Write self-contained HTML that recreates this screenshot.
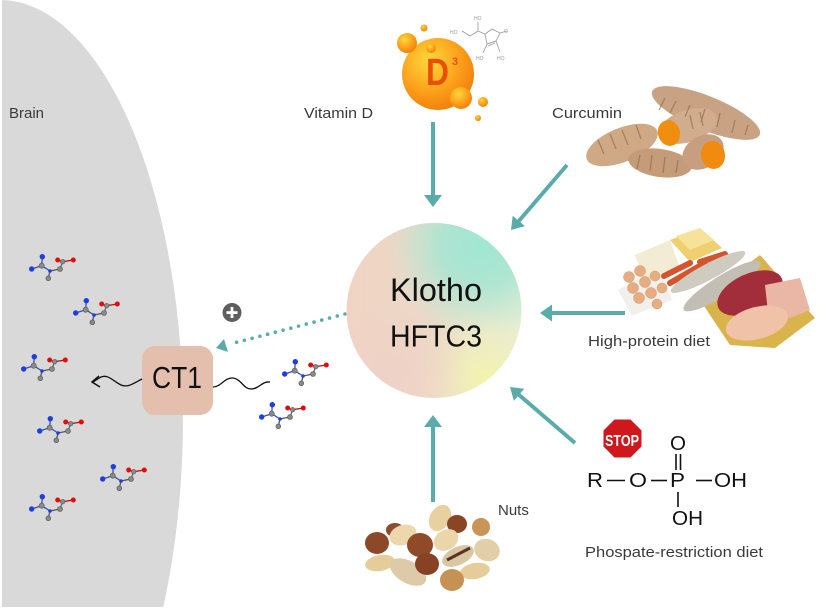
<!DOCTYPE html>
<html><head><meta charset="utf-8"><style>
html,body{margin:0;padding:0;background:#fff;width:829px;height:610px;overflow:hidden;}
svg{display:block;}
text{font-family:"Liberation Sans",sans-serif;}
</style></head><body>
<svg width="829" height="610" viewBox="0 0 829 610" xmlns="http://www.w3.org/2000/svg">
<defs>
<radialGradient id="orb" cx="0.38" cy="0.32" r="0.75">
<stop offset="0" stop-color="#ffd83a"/><stop offset="0.55" stop-color="#fca21c"/><stop offset="1" stop-color="#f07a08"/></radialGradient>
<linearGradient id="kbase" x1="0" y1="0" x2="1" y2="0">
<stop offset="0" stop-color="#f0d3c3"/><stop offset="0.5" stop-color="#ecdac8"/><stop offset="1" stop-color="#e6efd6"/></linearGradient>
<radialGradient id="kmint" cx="482" cy="245" r="95" gradientUnits="userSpaceOnUse">
<stop offset="0" stop-color="#9fe6d3" stop-opacity="1"/><stop offset="0.45" stop-color="#a6e5d2" stop-opacity="0.85"/><stop offset="1" stop-color="#b8e8d4" stop-opacity="0"/></radialGradient>
<radialGradient id="kyel" cx="485" cy="378" r="70" gradientUnits="userSpaceOnUse">
<stop offset="0" stop-color="#f3f3ad" stop-opacity="1"/><stop offset="1" stop-color="#f3f1bf" stop-opacity="0"/></radialGradient>
<radialGradient id="kpink" cx="400" cy="370" r="70" gradientUnits="userSpaceOnUse">
<stop offset="0" stop-color="#efd0c6" stop-opacity="0.8"/><stop offset="1" stop-color="#efd0c6" stop-opacity="0"/></radialGradient>
<g id="mol">
<g stroke-width="1.3">
<line x1="3.7" y1="16" x2="13.7" y2="12.7" stroke="#3a4fb0"/>
<line x1="13.7" y1="12.7" x2="14.3" y2="3.7" stroke="#3a4fb0"/>
<line x1="13.7" y1="12.7" x2="22" y2="18" stroke="#3a4fb0"/>
<line x1="22" y1="18" x2="20.3" y2="25.3" stroke="#555"/>
<line x1="22" y1="18" x2="32" y2="16" stroke="#555"/>
<line x1="32" y1="16" x2="34.7" y2="8.7" stroke="#666"/>
<line x1="34.7" y1="8.7" x2="29.7" y2="7" stroke="#c01010"/>
<line x1="34.7" y1="8.7" x2="45.3" y2="7" stroke="#c01010"/>
</g>
<circle cx="3.7" cy="16" r="2.7" fill="#1f3fdc"/>
<circle cx="14.3" cy="3.7" r="2.7" fill="#1f3fdc"/>
<circle cx="13.7" cy="12.7" r="2.6" fill="#8a8a8a" stroke="#555" stroke-width="0.6"/>
<circle cx="22" cy="18" r="1.8" fill="#1f3fdc"/>
<circle cx="20.3" cy="25.3" r="2.4" fill="#8a8a8a" stroke="#555" stroke-width="0.6"/>
<circle cx="32" cy="16" r="2.5" fill="#8a8a8a" stroke="#555" stroke-width="0.6"/>
<circle cx="34.7" cy="8.7" r="2.3" fill="#8a8a8a" stroke="#555" stroke-width="0.6"/>
<circle cx="29.7" cy="7" r="2.5" fill="#e00c0c"/>
<circle cx="45.3" cy="7" r="2.5" fill="#e00c0c"/>
</g>
</defs>

<!-- Brain region -->
<path d="M2,0 A183,418 0 0,1 163.2,607 L2,607 Z" fill="#d9d9d9"/>
<text x="9" y="118" font-size="15" fill="#3a3a3a">Brain</text>

<!-- molecules -->
<use href="#mol" x="28" y="253"/>
<use href="#mol" x="72" y="297"/>
<use href="#mol" x="20" y="353"/>
<use href="#mol" x="36" y="415"/>
<use href="#mol" x="99" y="463"/>
<use href="#mol" x="28" y="493"/>
<use href="#mol" x="281" y="358"/>
<use href="#mol" x="258" y="401"/>

<!-- CT1 -->
<rect x="142" y="346" width="71" height="69" rx="13" fill="#e4bfad"/>
<text x="152" y="388" font-size="31" fill="#111" textLength="50" lengthAdjust="spacingAndGlyphs">CT1</text>
<path d="M142,379 C134,383 128,388 121,385 C113,381 108,374 101,377 C97,379 95,381 93,382" fill="none" stroke="#111" stroke-width="1.3"/>
<path d="M99,376 L92,382 L100,387" fill="none" stroke="#111" stroke-width="1.5"/>
<path d="M213,387 C221,387 224,378 232,378 C241,378 243,389 251,389 C259,389 262,381 270,382" fill="none" stroke="#111" stroke-width="1.3"/>

<!-- plus -->
<circle cx="232" cy="312.5" r="9.5" fill="#5f5f5f"/>
<rect x="226.5" y="311.2" width="11" height="2.8" fill="#fff"/>
<rect x="230.6" y="307" width="2.8" height="11" fill="#fff"/>

<!-- dotted arrow -->
<line x1="345" y1="314" x2="234" y2="343" stroke="#5aacaa" stroke-width="3.6" stroke-linecap="round" stroke-dasharray="0 8"/>
<polygon points="216,348 224,339 228,352" fill="#5aacaa"/>

<!-- Klotho circle -->
<circle cx="434" cy="310.5" r="87.5" fill="url(#kbase)"/>
<circle cx="434" cy="310.5" r="87.5" fill="url(#kmint)"/>
<circle cx="434" cy="310.5" r="87.5" fill="url(#kyel)"/>
<circle cx="434" cy="310.5" r="87.5" fill="url(#kpink)"/>
<text x="390" y="301" font-size="32" fill="#111" textLength="92" lengthAdjust="spacingAndGlyphs">Klotho</text>
<text x="390" y="346.5" font-size="31" fill="#111" textLength="92" lengthAdjust="spacingAndGlyphs">HFTC3</text>

<!-- Vitamin D orb -->
<g stroke="#9a9a9a" stroke-width="0.8" fill="none">
<path d="M462,31 L470,36 L478,31 L478,22"/>
<path d="M478,31 L485,34 L487,44 L496,41 L500,33 L492,29 L485,34"/>
<path d="M487,44 L483,53 M496,41 L500,52 M487,44 L496,41 M488,46 L495,43"/>
<path d="M500,33 L507,31"/>
</g>
<g font-size="5" fill="#9a9a9a">
<text x="450" y="34">HO</text><text x="474" y="20">HO</text><text x="504" y="33">O</text>
<text x="476" y="60">HO</text><text x="497" y="60">HO</text>
</g>
<circle cx="438" cy="74" r="36" fill="url(#orb)"/>
<circle cx="407" cy="43" r="10" fill="url(#orb)"/>
<circle cx="424" cy="28" r="3.5" fill="url(#orb)"/>
<circle cx="431" cy="48" r="5" fill="url(#orb)"/>
<circle cx="461" cy="98" r="11" fill="url(#orb)"/>
<circle cx="483" cy="102" r="5" fill="url(#orb)"/>
<circle cx="478" cy="118" r="3" fill="url(#orb)"/>
<text x="426" y="85" font-size="38" font-weight="bold" fill="#e8500a" textLength="23" lengthAdjust="spacingAndGlyphs">D</text>
<text x="452" y="65" font-size="11" font-weight="bold" fill="#e8500a">3</text>
<text x="304" y="118" font-size="15" fill="#3a3a3a" textLength="69" lengthAdjust="spacingAndGlyphs">Vitamin D</text>

<!-- arrows -->
<g stroke="#5aacaa" stroke-width="4" fill="none">
<line x1="433" y1="122" x2="433" y2="198"/>
<line x1="567" y1="165" x2="518" y2="222"/>
<line x1="625" y1="313" x2="550" y2="313"/>
<line x1="575" y1="443" x2="518" y2="394"/>
<line x1="433" y1="502" x2="433" y2="424"/>
</g>
<g fill="#5aacaa">
<polygon points="424,195 442,195 433,207"/>
<polygon points="511,230 512.7,215.7 524.9,226.1"/>
<polygon points="540,313 552,304.5 552,321.5"/>
<polygon points="510,387 524.3,388.7 513.9,400.9"/>
<polygon points="433,415 424,427 442,427"/>
</g>

<!-- Curcumin -->
<text x="552" y="118" font-size="15" fill="#3a3a3a" textLength="70" lengthAdjust="spacingAndGlyphs">Curcumin</text>
<g>
<ellipse cx="706" cy="113" rx="58" ry="17" transform="rotate(22 706 113)" fill="#c9a283"/>
<ellipse cx="622" cy="145" rx="38" ry="17" transform="rotate(-22 622 145)" fill="#cfa986"/>
<ellipse cx="660" cy="163" rx="32" ry="14" transform="rotate(8 660 163)" fill="#c49c7a"/>
<ellipse cx="688" cy="126" rx="30" ry="16" transform="rotate(-18 688 126)" fill="#d1ad8e"/>
<ellipse cx="703" cy="152" rx="22" ry="16" transform="rotate(-30 703 152)" fill="#c79e7e"/>
<g stroke="#8c6446" stroke-width="1.3" opacity="0.6" fill="none">
<path d="M665,98 l-6,12 M676,101 l-6,12 M690,105 l-5,12 M705,109 l-4,13 M720,113 l-3,14 M735,120 l-3,13 M748,125 l-3,10"/>
<path d="M598,140 l6,14 M610,134 l6,15 M622,130 l6,15 M636,125 l5,14"/>
<path d="M640,155 l-3,14 M652,155 l-2,16 M665,157 l-2,16 M678,160 l-2,13"/>
<path d="M690,115 l3,14 M700,112 l3,14"/>
</g>
<ellipse cx="669" cy="133" rx="11" ry="13" transform="rotate(-15 669 133)" fill="#f08e10"/>
<ellipse cx="713" cy="155" rx="12" ry="14" transform="rotate(-10 713 155)" fill="#f08a10"/>
</g>

<!-- High protein -->
<g>
<polygon points="700,300 760,255 815,318 775,348 730,345" fill="#d9b44c"/>
<polygon points="618,290 660,265 672,300 632,316" fill="#f2f0ec"/>
<polygon points="635,255 670,240 680,268 645,282" fill="#f3ecd4"/>
<polygon points="670,240 700,228 722,248 690,262" fill="#efd070"/>
<polygon points="676,236 700,228 714,240 690,250" fill="#f7e29a"/>
<g fill="#e7ad82" stroke="#d49868" stroke-width="0.5">
<circle cx="629" cy="277" r="5.5"/><circle cx="640" cy="271" r="5.5"/>
<circle cx="633" cy="288" r="5.5"/><circle cx="645" cy="282" r="5.5"/><circle cx="655" cy="276" r="5"/>
<circle cx="639" cy="298" r="5.5"/><circle cx="651" cy="293" r="5.5"/><circle cx="662" cy="288" r="5"/>
<circle cx="657" cy="304" r="5"/>
</g>
<g stroke="#d5542b" stroke-width="6" stroke-linecap="round">
<line x1="664" y1="276" x2="690" y2="263"/>
<line x1="670" y1="283" x2="705" y2="263"/>
<line x1="700" y1="262" x2="725" y2="254"/>
</g>
<ellipse cx="708" cy="272" rx="42" ry="8" transform="rotate(-28 708 272)" fill="#cfcbc0"/>
<ellipse cx="722" cy="286" rx="45" ry="10" transform="rotate(-32 722 286)" fill="#c2beb3"/>
<ellipse cx="750" cy="293" rx="35" ry="19" transform="rotate(-25 750 293)" fill="#a22e3c"/>
<polygon points="765,285 800,278 810,310 790,318 768,312" fill="#eab6a5"/>
<ellipse cx="757" cy="323" rx="32" ry="16" transform="rotate(-15 757 323)" fill="#f0c2a8"/>
</g>
<text x="588" y="346" font-size="15" fill="#3a3a3a" textLength="122" lengthAdjust="spacingAndGlyphs">High-protein diet</text>

<!-- Nuts -->
<g>
<ellipse cx="380" cy="563" rx="15" ry="8" transform="rotate(-10 380 563)" fill="#e6cc98"/>
<ellipse cx="395" cy="530" rx="9" ry="7" fill="#8e4a2a"/>
<ellipse cx="440" cy="518" rx="10" ry="14" transform="rotate(30 440 518)" fill="#e8d0a0"/>
<ellipse cx="377" cy="543" rx="12" ry="11" fill="#8c4828"/>
<ellipse cx="403" cy="535" rx="14" ry="10" transform="rotate(-20 403 535)" fill="#ecd8ac"/>
<ellipse cx="457" cy="524" rx="10" ry="9" fill="#8a4526"/>
<ellipse cx="481" cy="527" rx="9" ry="9" fill="#c99456"/>
<ellipse cx="446" cy="540" rx="13" ry="10" transform="rotate(-30 446 540)" fill="#ead6aa"/>
<ellipse cx="487" cy="550" rx="13" ry="11" transform="rotate(20 487 550)" fill="#e2cfa8"/>
<ellipse cx="408" cy="572" rx="20" ry="11" transform="rotate(30 408 572)" fill="#dccaa8"/>
<ellipse cx="420" cy="545" rx="13" ry="12" fill="#8f4a28"/>
<ellipse cx="427" cy="564" rx="12" ry="11" fill="#874224"/>
<ellipse cx="458" cy="556" rx="17" ry="9" transform="rotate(-25 458 556)" fill="#d8c6a4"/>
<path d="M447,560 L470,548" stroke="#5a3420" stroke-width="3"/>
<ellipse cx="475" cy="571" rx="15" ry="8" transform="rotate(-10 475 571)" fill="#e6cc98"/>
<ellipse cx="452" cy="580" rx="12" ry="11" fill="#c69254"/>
</g>
<text x="498" y="515" font-size="15" fill="#3a3a3a">Nuts</text>

<!-- STOP & phosphate -->
<polygon points="614,418 631,418 643,430 643,447 631,459 614,459 602,447 602,430" fill="#fff"/>
<polygon points="614.5,419.5 630.5,419.5 641.5,430.5 641.5,446.5 630.5,457.5 614.5,457.5 603.5,446.5 603.5,430.5" fill="#d0181c"/>
<text x="605" y="446" font-size="16" font-weight="bold" fill="#fff" textLength="34" lengthAdjust="spacingAndGlyphs">STOP</text>
<g font-size="20" fill="#111">
<text x="587" y="487" textLength="16" lengthAdjust="spacingAndGlyphs">R</text>
<text x="629" y="487" textLength="18" lengthAdjust="spacingAndGlyphs">O</text>
<text x="670" y="487" textLength="15" lengthAdjust="spacingAndGlyphs">P</text>
<text x="714" y="487" textLength="33" lengthAdjust="spacingAndGlyphs">OH</text>
<text x="670" y="450" textLength="16" lengthAdjust="spacingAndGlyphs">O</text>
<text x="672" y="525" textLength="31" lengthAdjust="spacingAndGlyphs">OH</text>
</g>
<g stroke="#111" stroke-width="1.6">
<line x1="607" y1="480.5" x2="625" y2="480.5"/>
<line x1="651" y1="480.5" x2="667" y2="480.5"/>
<line x1="696" y1="480.5" x2="712" y2="480.5"/>
<line x1="676" y1="454" x2="676" y2="470"/>
<line x1="680.5" y1="454" x2="680.5" y2="470"/>
<line x1="678" y1="492" x2="678" y2="507"/>
</g>
<text x="585" y="557" font-size="15" fill="#3a3a3a" textLength="178" lengthAdjust="spacingAndGlyphs">Phospate-restriction diet</text>
</svg>
</body></html>
